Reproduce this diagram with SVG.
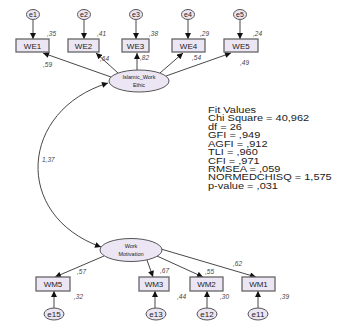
<svg xmlns="http://www.w3.org/2000/svg" width="338" height="323" viewBox="0 0 338 323">
  <style>
    .lat { fill: #ece6f4; stroke: #555; stroke-width: 1; }
    .err { fill: #ece6f4; stroke: #555; stroke-width: 1; }
    .obs { fill: #ece6f4; stroke: #666; stroke-width: 1.3; }
    .lbl { font-family: "Liberation Sans", Arial, sans-serif; fill: #222; text-anchor: middle; }
    .nm { font-size: 8px; }
    .en { font-size: 7px; }
    .ln { font-size: 5.5px; }
    .est { font-family: "Liberation Sans", Arial, sans-serif; font-size: 6.5px; fill: #444; font-style: italic; }
    .edge { stroke: #333; stroke-width: 0.9; fill: none; marker-end: url(#ah); }
    .fit { font-family: "Liberation Sans", Arial, sans-serif; font-size: 11px; fill: #222; }
  </style>
  <defs>
    <marker id="ah" viewBox="0 0 10 10" refX="10" refY="5" markerWidth="7" markerHeight="6" markerUnits="userSpaceOnUse" orient="auto">
      <path d="M0,0 L10,5 L0,10 z" fill="#111"/>
    </marker>
    <marker id="ahs" viewBox="0 0 10 10" refX="0" refY="5" markerWidth="7" markerHeight="6" markerUnits="userSpaceOnUse" orient="auto">
      <path d="M10,0 L0,5 L10,10 z" fill="#111"/>
    </marker>
  </defs>

  <rect width="338" height="323" fill="#fff"/>

  <!-- connectors -->
  <g id="connectors">
    <!-- error terms to indicators (top) -->
    <line class="edge" x1="33" y1="20" x2="33" y2="39"/>
    <line class="edge" x1="84" y1="20" x2="84" y2="39"/>
    <line class="edge" x1="136" y1="20" x2="136" y2="39"/>
    <line class="edge" x1="188" y1="20" x2="188" y2="39"/>
    <line class="edge" x1="240" y1="20" x2="240" y2="39"/>
    <!-- Islamic work ethic to indicators -->
    <line class="edge" x1="111" y1="77" x2="43" y2="53"/>
    <line class="edge" x1="118" y1="73" x2="96" y2="53"/>
    <line class="edge" x1="137" y1="70" x2="137" y2="53"/>
    <line class="edge" x1="160" y1="73" x2="183" y2="53"/>
    <line class="edge" x1="166" y1="76" x2="231" y2="53"/>
    <!-- covariance between latents -->
    <path d="M108,83 C20,110 12,215 101,247" fill="none" stroke="#333" stroke-width="0.9" marker-start="url(#ahs)" marker-end="url(#ah)"/>
    <!-- Work motivation to indicators -->
    <line class="edge" x1="104" y1="256" x2="55" y2="277"/>
    <line class="edge" x1="147" y1="260" x2="153" y2="277"/>
    <line class="edge" x1="157" y1="256" x2="203" y2="277"/>
    <line class="edge" x1="161" y1="249" x2="256" y2="277"/>
    <!-- error terms to indicators (bottom) -->
    <line class="edge" x1="54" y1="308" x2="54" y2="291"/>
    <line class="edge" x1="155" y1="308" x2="155" y2="291"/>
    <line class="edge" x1="207" y1="308" x2="207" y2="291"/>
    <line class="edge" x1="258" y1="308" x2="258" y2="291"/>
  </g>

  <!-- error terms top -->
  <g id="e1"><ellipse class="err" cx="33" cy="14.5" rx="6.5" ry="5"/><text class="lbl en" x="33" y="17">e1</text></g>
  <g id="e2"><ellipse class="err" cx="84" cy="14.5" rx="6.5" ry="5"/><text class="lbl en" x="84" y="17">e2</text></g>
  <g id="e3"><ellipse class="err" cx="136" cy="14.5" rx="6.5" ry="5"/><text class="lbl en" x="136" y="17">e3</text></g>
  <g id="e4"><ellipse class="err" cx="188" cy="14.5" rx="6.5" ry="5"/><text class="lbl en" x="188" y="17">e4</text></g>
  <g id="e5"><ellipse class="err" cx="240" cy="14.5" rx="6.5" ry="5"/><text class="lbl en" x="240" y="17">e5</text></g>

  <!-- indicators top -->
  <g id="WE1"><rect class="obs" x="16" y="39" width="33" height="13"/><text class="lbl nm" x="32.5" y="48.5">WE1</text></g>
  <g id="WE2"><rect class="obs" x="68" y="39" width="31" height="13"/><text class="lbl nm" x="83.5" y="48.5">WE2</text></g>
  <g id="WE3"><rect class="obs" x="122" y="39" width="27" height="13"/><text class="lbl nm" x="135.5" y="48.5">WE3</text></g>
  <g id="WE4"><rect class="obs" x="172" y="39" width="33" height="13"/><text class="lbl nm" x="188.5" y="48.5">WE4</text></g>
  <g id="WE5"><rect class="obs" x="224" y="39" width="34" height="13"/><text class="lbl nm" x="241" y="48.5">WE5</text></g>

  <!-- latent: Islamic work ethic -->
  <g id="islamic_work_ethic">
    <ellipse class="lat" cx="139" cy="81" rx="30" ry="11"/>
    <text class="lbl ln" x="139" y="79">Islamic_Work</text>
    <text class="lbl ln" x="139" y="87">Ethic</text>
  </g>

  <!-- latent: Work motivation -->
  <g id="work_motivation">
    <ellipse class="lat" cx="131" cy="250" rx="31" ry="11.5"/>
    <text class="lbl ln" x="131" y="248">Work</text>
    <text class="lbl ln" x="131" y="256">Motivation</text>
  </g>

  <!-- indicators bottom -->
  <g id="WM5"><rect class="obs" x="36" y="277" width="34" height="14"/><text class="lbl nm" x="53" y="287">WM5</text></g>
  <g id="WM3"><rect class="obs" x="139" y="277" width="30" height="14"/><text class="lbl nm" x="154" y="287">WM3</text></g>
  <g id="WM2"><rect class="obs" x="190" y="277" width="33" height="14"/><text class="lbl nm" x="206.5" y="287">WM2</text></g>
  <g id="WM1"><rect class="obs" x="242" y="277" width="33" height="14"/><text class="lbl nm" x="258.5" y="287">WM1</text></g>

  <!-- error terms bottom -->
  <g id="e15"><ellipse class="err" cx="54" cy="314" rx="10" ry="6"/><text class="lbl nm" x="54" y="317">e15</text></g>
  <g id="e13"><ellipse class="err" cx="156" cy="314" rx="10" ry="6"/><text class="lbl nm" x="156" y="317">e13</text></g>
  <g id="e12"><ellipse class="err" cx="207" cy="314" rx="10" ry="6"/><text class="lbl nm" x="207" y="317">e12</text></g>
  <g id="e11"><ellipse class="err" cx="258" cy="314" rx="10" ry="6"/><text class="lbl nm" x="258" y="317">e11</text></g>

  <!-- estimates -->
  <g id="estimates">
    <text class="est" x="47" y="36">,35</text>
    <text class="est" x="97" y="36">,41</text>
    <text class="est" x="149" y="36">,38</text>
    <text class="est" x="200" y="36">,29</text>
    <text class="est" x="253" y="36">,24</text>
    <text class="est" x="43" y="67">,59</text>
    <text class="est" x="100" y="61">,64</text>
    <text class="est" x="140" y="60">,82</text>
    <text class="est" x="192" y="60">,54</text>
    <text class="est" x="240" y="65">,49</text>
    <text class="est" x="42" y="162">1,37</text>
    <text class="est" x="77" y="274">,57</text>
    <text class="est" x="74" y="299">,32</text>
    <text class="est" x="160" y="273">,67</text>
    <text class="est" x="177" y="299">,44</text>
    <text class="est" x="205" y="274">,55</text>
    <text class="est" x="233" y="266">,62</text>
    <text class="est" x="220" y="299">,30</text>
    <text class="est" x="280" y="299">,39</text>
  </g>

  <!-- fit statistics -->
  <g id="fit_values" transform="translate(208,113) scale(1,0.78)">
    <text class="fit" x="0" y="0">Fit Values</text>
    <text class="fit" x="0" y="10.8">Chi Square = 40,962</text>
    <text class="fit" x="0" y="21.6">df = 26</text>
    <text class="fit" x="0" y="32.4">GFI = ,949</text>
    <text class="fit" x="0" y="43.2">AGFI = ,912</text>
    <text class="fit" x="0" y="54">TLI = ,960</text>
    <text class="fit" x="0" y="64.8">CFI = ,971</text>
    <text class="fit" x="0" y="75.6">RMSEA = ,059</text>
    <text class="fit" x="0" y="86.4">NORMEDCHISQ = 1,575</text>
    <text class="fit" x="0" y="97.2">p-value = ,031</text>
  </g>
</svg>
